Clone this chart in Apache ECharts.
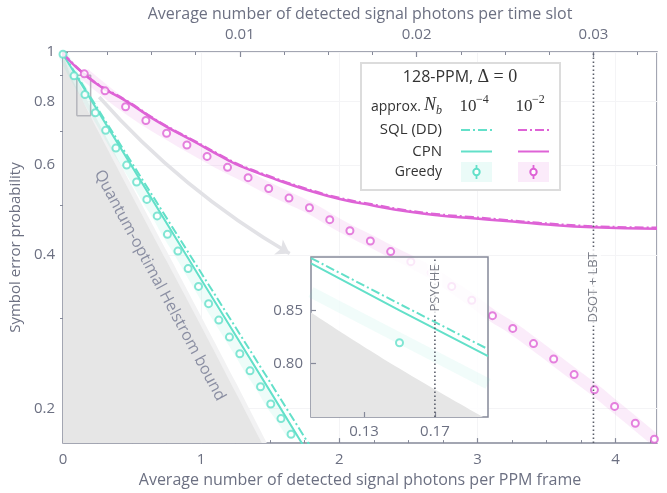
<!DOCTYPE html>
<html><head><meta charset="utf-8">
<script src="https://cdn.jsdelivr.net/npm/echarts@6/dist/echarts.min.js"></script>
<style>html,body{margin:0;padding:0;background:#fff}#c{width:667px;height:493px}</style>
</head><body><div id="c"></div>
<script>
// ---------- data ----------
const xTicksMajor = [0, 1, 2, 3, 4];
const xTicksMinor = [0.25,0.5,0.75,1.25,1.5,1.75,2.25,2.5,2.75,3.25,3.5,3.75,4.25];
const topTicksMajor = [0.01, 0.02, 0.03];
const topTicksMinor = [0.0025,0.005,0.0075,0.0125,0.015,0.0175,0.0225,0.025,0.0275,0.0325];
const yTicksMajor = [0.2, 0.4, 0.6, 0.8, 1];
const yTicksMinor = [0.3, 0.5, 0.7, 0.9];

const helstromX = [0, 0.05, 0.1, 0.2, 0.25, 0.5, 0.75, 1.0, 1.25, 1.5];
const helstromY = [0.992, 0.907, 0.848, 0.7475, 0.703, 0.522, 0.389, 0.290, 0.215, 0.159];
const helstromEdgeY = [0.993, 0.930, 0.885, 0.780, 0.735, 0.546, 0.407, 0.303, 0.225, 0.166];

const cyanCpnX = [0, 0.5, 1.0, 1.5, 1.8];
const cyanCpnY = [0.99, 0.596, 0.358, 0.216, 0.159];
const cyanSqlX = [0, 0.5, 1.0, 1.5, 1.9];
const cyanSqlY = [0.993, 0.605, 0.369, 0.225, 0.151];

const cyanGreedyX = [0, 0.080, 0.159, 0.234, 0.309, 0.383, 0.461, 0.533, 0.607, 0.682, 0.756, 0.832, 0.906, 0.981, 1.054, 1.128, 1.205, 1.280, 1.354, 1.430, 1.504, 1.578, 1.651];
const cyanGreedyY = [0.99, 0.898, 0.825, 0.760, 0.702, 0.648, 0.600, 0.556, 0.514, 0.477, 0.439, 0.407, 0.376, 0.347, 0.321, 0.298, 0.276, 0.256, 0.237, 0.2205, 0.204, 0.191, 0.178];

const magLineX = [0, 0.219, 0.461, 0.701, 0.942, 1.184, 1.28, 1.521, 1.762, 2.003, 2.244, 2.485, 2.726, 2.967, 3.208, 3.449, 3.834, 4.3];
const magCpnY  = [0.992, 0.875, 0.800, 0.726, 0.669, 0.616, 0.598, 0.565, 0.537, 0.515, 0.500, 0.487, 0.478, 0.472, 0.466, 0.460, 0.453, 0.450];
const magSqlY  = [0.993, 0.877, 0.802, 0.728, 0.671, 0.618, 0.600, 0.567, 0.539, 0.517, 0.502, 0.489, 0.480, 0.474, 0.468, 0.462, 0.455, 0.452];

const magGreedyX = [0.154,0.304,0.453,0.600,0.750,0.897,1.043,1.191,1.340,1.489,1.636,1.784,1.931,2.077,2.225,2.372,2.518,2.666,2.814,2.959,3.109,3.256,3.406,3.552,3.700,3.847,3.993,4.143,4.281];
const magGreedyY = [0.906,0.839,0.781,0.734,0.693,0.657,0.624,0.594,0.567,0.540,0.517,0.495,0.469,0.446,0.426,0.406,0.388,0.369,0.347,0.326,0.304,0.287,0.268,0.250,0.233,0.2175,0.2018,0.187,0.174];

const dsotX = 3.84;            // 0.03 photons per slot x 128
const psycheX = 0.17;

// zoom window shown in the inset
const zoomBoxX = [0.10, 0.20];
const zoomBoxY = [0.75, 0.90];

// inset (zoom of the grey rectangle)
const insetX = [0.10, 0.15, 0.20];
const insetCpnY = [0.894, 0.850, 0.807];
const insetSqlY = [0.899, 0.856, 0.8136];
const insetGreedyBandY = [0.867, 0.824, 0.781];
const insetHelstromY = [0.848, 0.7954, 0.7475];
const insetGreedyPtX = [0.15];
const insetGreedyPtY = [0.8196];
const insetXTicks = [0.13, 0.17];
const insetYTicks = [0.80, 0.85];

const arrowFrom = [0.262, 0.816];
const arrowTo = [1.641, 0.4025];

// ---------- styles ----------
const CYAN = '#63e0c9', MAG = '#de63d6';
const TXT = '#6c7082', AX = '#858999', FONT = 'Open Sans';
const zip = (a, b) => a.map((v, i) => [v, b[i]]);
const DASHDOT = [9, 3, 2, 3];
const boxPath = [[zoomBoxX[0], zoomBoxY[0]], [zoomBoxX[1], zoomBoxY[0]], [zoomBoxX[1], zoomBoxY[1]],
                 [zoomBoxX[0], zoomBoxY[1]], [zoomBoxX[0], zoomBoxY[0]]];

const chart = echarts.init(document.getElementById('c'), null, {renderer: 'canvas'});
const mainGrid = {left: 63, top: 52, right: 10, bottom: 47, show: true, borderColor: AX, borderWidth: 1.5, backgroundColor: 'transparent'};
const insetGrid = {left: 311, top: 257, width: 177, height: 160, show: true, borderColor: AX, borderWidth: 1.5, backgroundColor: 'rgba(255,255,255,0.82)', z: 10};

const lbl = {color: TXT, fontFamily: FONT, fontSize: 15};
const ttl = {color: TXT, fontFamily: FONT, fontSize: 16};
const option = {
  animation: false,
  grid: [mainGrid, insetGrid],
  xAxis: [
    { // 0 main bottom
      gridIndex: 0, type: 'value', position: 'bottom', min: 0, max: 4.3, interval: 1,
      axisLine: {show: false},
      axisTick: {inside: true, length: 5, lineStyle: {color: AX, width: 1.2}},
      axisLabel: Object.assign({margin: 9, showMaxLabel: false}, lbl),
      splitLine: {show: true, lineStyle: {color: '#f4f4f6', width: 1}},
      name: 'Average number of detected signal photons per PPM frame',
      nameLocation: 'middle', nameGap: 27, nameTextStyle: ttl
    },
    { // 1 main bottom minor ticks
      gridIndex: 0, type: 'value', position: 'bottom', min: 0, max: 4.3,
      axisLine: {show: false}, axisLabel: {show: false}, splitLine: {show: false},
      axisTick: {inside: true, length: 3, customValues: xTicksMinor, lineStyle: {color: AX, width: 1}}
    },
    { // 2 top axis (per time slot)
      gridIndex: 0, type: 'value', position: 'top', min: 0, max: 4.3 / 128,
      axisLine: {show: false}, splitLine: {show: false},
      axisTick: {inside: true, length: 5, customValues: topTicksMajor, lineStyle: {color: AX, width: 1.2}},
      axisLabel: Object.assign({margin: 10, customValues: topTicksMajor}, lbl),
      name: 'Average number of detected signal photons per time slot',
      nameLocation: 'middle', nameGap: 29, nameTextStyle: ttl
    },
    { // 3 top minor
      gridIndex: 0, type: 'value', position: 'top', min: 0, max: 4.3 / 128,
      axisLine: {show: false}, axisLabel: {show: false}, splitLine: {show: false},
      axisTick: {inside: true, length: 3, customValues: topTicksMinor, lineStyle: {color: AX, width: 1}}
    },
    { // 4 inset x
      gridIndex: 1, type: 'value', min: 0.10, max: 0.20, z: 12,
      axisLine: {show: false}, splitLine: {show: false},
      axisTick: {inside: true, length: 5, customValues: insetXTicks, lineStyle: {color: AX, width: 1.2}},
      axisLabel: Object.assign({margin: 7, customValues: insetXTicks, formatter: v => v.toFixed(2)}, lbl)
    }
  ],
  yAxis: [
    { // 0 main log
      gridIndex: 0, type: 'log', min: 0.171, max: 1,
      axisLine: {show: false},
      axisTick: {inside: true, length: 5, customValues: yTicksMajor, lineStyle: {color: AX, width: 1.2}},
      axisLabel: Object.assign({margin: 8, customValues: yTicksMajor, formatter: v => String(+v.toFixed(2))}, lbl),
      splitLine: {show: true, lineStyle: {color: '#f4f4f6', width: 1}},
      name: 'Symbol error probability', nameLocation: 'middle', nameRotate: 90, nameGap: 37,
      nameTextStyle: Object.assign({}, lbl)
    },
    { // 1 minor
      gridIndex: 0, type: 'log', min: 0.171, max: 1,
      axisLine: {show: false}, axisLabel: {show: false}, splitLine: {show: false},
      axisTick: {inside: true, length: 3, customValues: yTicksMinor, lineStyle: {color: AX, width: 1}}
    },
    { // 2 inset y
      gridIndex: 1, type: 'value', min: 0.75, max: 0.90, z: 12,
      axisLine: {show: false}, splitLine: {show: false},
      axisTick: {inside: true, length: 5, customValues: insetYTicks, lineStyle: {color: AX, width: 1.2}},
      axisLabel: Object.assign({margin: 8, customValues: insetYTicks, formatter: v => v.toFixed(2)}, lbl)
    }
  ],
  series: [
    {type: 'line', data: zip(helstromX, helstromEdgeY), smooth: true, symbol: 'none',
     lineStyle: {width: 0}, areaStyle: {color: '#f2f2f3', opacity: 1, origin: 'start'}, z: 1, silent: true},
    {type: 'line', name: 'Helstrom', data: zip(helstromX, helstromY), smooth: true, symbol: 'none',
     lineStyle: {width: 0}, areaStyle: {color: '#e6e6e6', opacity: 1, origin: 'start'}, z: 1, silent: true},
    {type: 'line', data: boxPath, symbol: 'none', lineStyle: {width: 1.5, color: '#b4b5bb'}, z: 2},
    {type: 'line', data: zip(cyanGreedyX, cyanGreedyY), symbol: 'none', smooth: true,
     lineStyle: {width: 10, color: 'rgba(99,224,201,0.11)'}, z: 2},
    {type: 'line', data: zip(magGreedyX, magGreedyY), symbol: 'none', smooth: true,
     lineStyle: {width: 12, color: 'rgba(222,99,214,0.12)'}, z: 2},
    {type: 'line', data: zip(cyanSqlX, cyanSqlY), symbol: 'none', lineStyle: {width: 2, color: CYAN, type: DASHDOT}, z: 3},
    {type: 'line', data: zip(cyanCpnX, cyanCpnY), symbol: 'none', lineStyle: {width: 2, color: CYAN}, z: 3},
    {type: 'line', data: zip(magLineX, magCpnY), symbol: 'none', smooth: true, lineStyle: {width: 2.5, color: MAG}, z: 3},
    {type: 'line', data: zip(magLineX, magSqlY), symbol: 'none', smooth: true, lineStyle: {width: 2.5, color: MAG, type: DASHDOT}, z: 3},
    {type: 'scatter', data: zip(magGreedyX, magGreedyY), symbol: 'emptyCircle', symbolSize: 7,
     itemStyle: {color: MAG, borderWidth: 2}, z: 4},
    {type: 'scatter', data: zip(cyanGreedyX, cyanGreedyY), symbol: 'emptyCircle', symbolSize: 7,
     itemStyle: {color: CYAN, borderWidth: 2}, z: 4},
    {type: 'lines', coordinateSystem: 'cartesian2d', xAxisIndex: 0, yAxisIndex: 0,
     data: [{coords: [arrowFrom, arrowTo]}], symbol: ['none', 'arrow'], symbolSize: 13,
     lineStyle: {color: '#e2e2e6', width: 3.5, curveness: -0.08, opacity: 1}, z: 3},
    {type: 'line', data: [[dsotX, 0.171], [dsotX, 1]], symbol: 'none',
     lineStyle: {color: '#5a5e6a', width: 1.6, type: [1.6, 2.4]}, z: 5},
    {type: 'scatter', data: [[dsotX, 0.3455]], symbolSize: 1, itemStyle: {color: 'transparent'}, z: 6,
     label: {show: true, position: 'inside', formatter: 'DSOT + LBT', rotate: 90, color: '#5a5e6a',
       fontFamily: FONT, fontSize: 13, backgroundColor: '#fff', padding: [1, 3]}},
    {type: 'scatter', data: [[0.70, 0.3485]], symbolSize: 1, itemStyle: {color: 'transparent'}, z: 6,
     label: {show: true, position: 'inside', formatter: 'Quantum-optimal Helstrom bound', rotate: -61.7,
       color: '#737891', fontFamily: FONT, fontSize: 16}},
    // ---- inset ----
    {type: 'line', xAxisIndex: 4, yAxisIndex: 2, data: zip(insetX, insetHelstromY), symbol: 'none', smooth: true,
     lineStyle: {width: 0}, areaStyle: {color: '#e6e6e6', opacity: 1, origin: 'start'}, z: 11},
    {type: 'line', xAxisIndex: 4, yAxisIndex: 2, data: zip(insetX, insetGreedyBandY), symbol: 'none',
     lineStyle: {width: 11, color: 'rgba(99,224,201,0.09)'}, z: 11},
    {type: 'line', xAxisIndex: 4, yAxisIndex: 2, data: zip(insetX, insetSqlY), symbol: 'none',
     lineStyle: {width: 2, color: CYAN, type: DASHDOT}, z: 12},
    {type: 'line', xAxisIndex: 4, yAxisIndex: 2, data: zip(insetX, insetCpnY), symbol: 'none',
     lineStyle: {width: 2, color: CYAN}, z: 12},
    {type: 'scatter', xAxisIndex: 4, yAxisIndex: 2, data: zip(insetGreedyPtX, insetGreedyPtY), symbol: 'emptyCircle',
     symbolSize: 7, itemStyle: {color: CYAN, borderWidth: 2}, z: 13},
    {type: 'line', xAxisIndex: 4, yAxisIndex: 2, data: [[psycheX, 0.75], [psycheX, 0.90]], symbol: 'none',
     lineStyle: {color: '#5a5e6a', width: 1.6, type: [1.6, 2.4]}, z: 13},
    {type: 'scatter', xAxisIndex: 4, yAxisIndex: 2, data: [[psycheX, 0.871]], symbolSize: 1,
     itemStyle: {color: 'transparent'}, z: 14,
     label: {show: true, position: 'inside', formatter: 'PSYCHE', rotate: 90, color: '#5a5e6a',
       fontFamily: FONT, fontSize: 13, backgroundColor: '#fff', padding: [1, 3]}}
  ],
  graphic: [
    {type: 'rect', shape: {x: 361, y: 63, width: 199, height: 127}, style: {fill: '#fff', stroke: '#dcdcdc', lineWidth: 2}, z: 30},
    {type: 'text', x: 460, y: 77, z: 31, style: {text: '{a|128-PPM, }{m|Δ = 0}', align: 'center', verticalAlign: 'middle',
      rich: {a: {fontFamily: FONT, fontSize: 16, fill: '#333'}, m: {fontFamily: 'Liberation Serif', fontSize: 18, fill: '#333'}}}},
    {type: 'text', x: 421, y: 107, z: 31, style: {text: 'approx.', align: 'right', verticalAlign: 'middle', fontFamily: FONT, fontSize: 14, fill: '#333'}},
    {type: 'text', x: 424, y: 105, z: 31, style: {text: 'N', align: 'left', verticalAlign: 'middle', fontFamily: 'Liberation Serif', fontStyle: 'italic', fontSize: 18, fill: '#333'}},
    {type: 'text', x: 436, y: 111, z: 31, style: {text: 'b', align: 'left', verticalAlign: 'middle', fontFamily: 'Liberation Serif', fontStyle: 'italic', fontSize: 12, fill: '#333'}},
    {type: 'text', x: 468, y: 107, z: 31, style: {text: '10', align: 'center', verticalAlign: 'middle', fontFamily: 'Liberation Serif', fontSize: 17, fill: '#333'}},
    {type: 'text', x: 476, y: 100, z: 31, style: {text: '−4', align: 'left', verticalAlign: 'middle', fontFamily: 'Liberation Serif', fontSize: 12, fill: '#333'}},
    {type: 'text', x: 524, y: 107, z: 31, style: {text: '10', align: 'center', verticalAlign: 'middle', fontFamily: 'Liberation Serif', fontSize: 17, fill: '#333'}},
    {type: 'text', x: 532, y: 100, z: 31, style: {text: '−2', align: 'left', verticalAlign: 'middle', fontFamily: 'Liberation Serif', fontSize: 12, fill: '#333'}},
    {type: 'text', x: 442, y: 130, z: 31, style: {text: 'SQL (DD)', align: 'right', verticalAlign: 'middle', fontFamily: FONT, fontSize: 15, fill: '#333'}},
    {type: 'text', x: 442, y: 152, z: 31, style: {text: 'CPN', align: 'right', verticalAlign: 'middle', fontFamily: FONT, fontSize: 15, fill: '#333'}},
    {type: 'text', x: 442, y: 172, z: 31, style: {text: 'Greedy', align: 'right', verticalAlign: 'middle', fontFamily: FONT, fontSize: 14, fill: '#333'}},
    {type: 'line', shape: {x1: 461, y1: 130, x2: 492, y2: 130}, style: {stroke: CYAN, lineWidth: 2, lineDash: DASHDOT}, z: 31},
    {type: 'line', shape: {x1: 518, y1: 130, x2: 549, y2: 130}, style: {stroke: MAG, lineWidth: 2, lineDash: DASHDOT}, z: 31},
    {type: 'line', shape: {x1: 461, y1: 151.5, x2: 492, y2: 151.5}, style: {stroke: CYAN, lineWidth: 2}, z: 31},
    {type: 'line', shape: {x1: 518, y1: 151.5, x2: 549, y2: 151.5}, style: {stroke: MAG, lineWidth: 2}, z: 31},
    {type: 'rect', shape: {x: 461, y: 162, width: 31, height: 20}, style: {fill: 'rgba(99,224,201,0.13)'}, z: 31},
    {type: 'rect', shape: {x: 518, y: 162, width: 31, height: 20}, style: {fill: 'rgba(222,99,214,0.13)'}, z: 31},
    {type: 'line', shape: {x1: 476.5, y1: 165, x2: 476.5, y2: 179}, style: {stroke: CYAN, lineWidth: 1.8}, z: 32},
    {type: 'line', shape: {x1: 533.5, y1: 165, x2: 533.5, y2: 179}, style: {stroke: MAG, lineWidth: 1.8}, z: 32},
    {type: 'circle', shape: {cx: 476.5, cy: 172, r: 3.2}, style: {fill: '#fff', stroke: CYAN, lineWidth: 2}, z: 33},
    {type: 'circle', shape: {cx: 533.5, cy: 172, r: 3.2}, style: {fill: '#fff', stroke: MAG, lineWidth: 2}, z: 33}
  ]
};
chart.setOption(option);
</script></body></html>
